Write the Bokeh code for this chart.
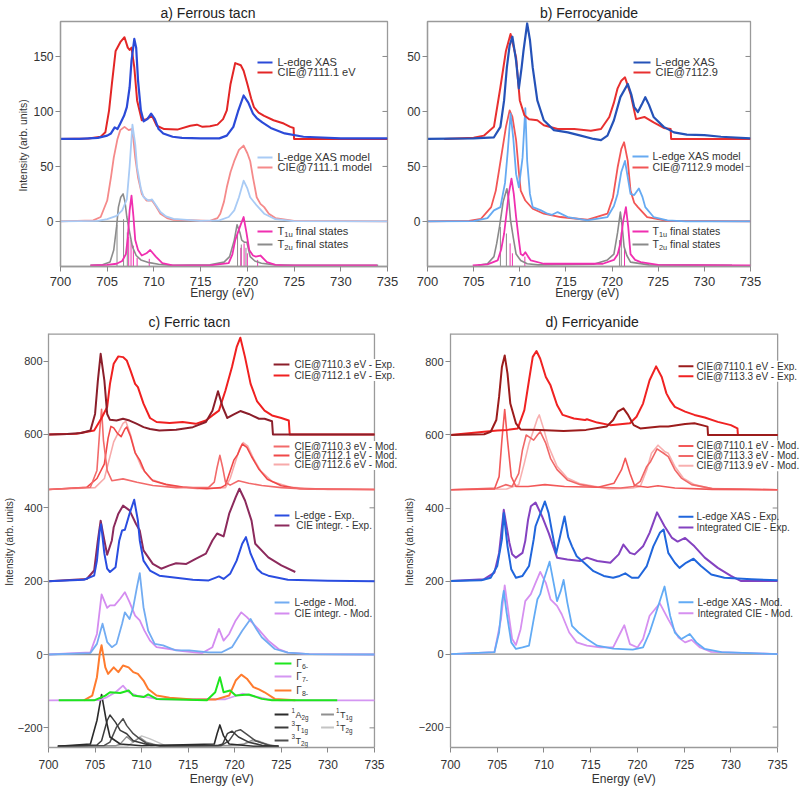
from bokeh.plotting import figure
from bokeh.layouts import column, row
from bokeh.models import Range1d, FixedTicker, Label
from bokeh.embed import file_html
from bokeh.resources import INLINE

FONT = "Liberation Sans"

# ---------------- ticks ----------------
X_TICKS = [700, 705, 710, 715, 720, 725, 730, 735]
AB_YTICKS = [0, 50, 100, 150]
B_YTICK_TEXT = {0: "0", 50: "50", 100: "00", 150: "50"}
CD_YTICKS = [-200, 0, 200, 400, 600, 800]

# ---------------- panel a: Ferrous tacn ----------------
A_XAS = [(700, 75), (702, 75), (704, 76), (705.0, 78), (705.4, 80), (705.8, 85.5), (706.1, 84), (706.4, 89),
         (706.8, 96), (707.1, 104), (707.4, 122), (707.6, 146), (707.9, 166), (708.1, 158), (708.3, 128),
         (708.6, 101), (708.9, 91), (709.3, 93), (709.7, 98), (710.1, 93), (710.5, 84), (711.0, 80), (712.0, 77),
         (713.0, 76), (715.0, 75.5), (717.0, 75.5), (717.8, 78), (718.5, 86), (719.0, 100), (719.6, 114.5),
         (720.1, 108), (720.6, 98), (721.0, 94), (721.6, 90), (722.5, 85), (724.0, 80), (726.0, 77), (730.0, 75.5),
         (735.0, 75.5)]
A_CIE = [(700, 75), (703, 75.5), (704.3, 77), (704.8, 81), (705.2, 101), (705.5, 125), (705.9, 155), (706.4, 163),
         (706.85, 167.5), (707.2, 158), (707.4, 156), (707.6, 158), (707.9, 140), (708.2, 110), (708.7, 92),
         (709.2, 93), (709.8, 96), (710.3, 87), (711.1, 84), (712.5, 83.5), (713.9, 87), (714.6, 88), (715.2, 86),
         (716.0, 86.5), (716.8, 88), (717.4, 93), (717.8, 101), (718.2, 125), (718.7, 144), (719.3, 142),
         (719.6, 137), (720.0, 125), (720.4, 112), (720.7, 104), (721.2, 99), (721.8, 96), (722.8, 92), (723.9, 89),
         (724.6, 86), (724.95, 85), (725.0, 75), (730, 75), (735, 75)]
A_XAS_MOD = [(700, 0), (704, 0.5), (705, 2), (706, 5), (706.6, 10), (707.1, 20), (707.4, 50), (707.7, 88),
             (708.0, 70), (708.2, 49), (708.6, 30), (708.9, 22), (709.4, 19), (709.8, 20), (710.2, 15), (710.7, 8.5),
             (711.3, 4.5), (712.1, 2.4), (715, 0.5), (717, 1), (718, 4), (718.6, 10), (719.1, 22), (719.6, 37),
             (720.0, 30), (720.3, 22), (721.0, 14.5), (721.8, 7), (723, 2), (725, 0.3), (735, 0)]
A_CIE_MOD = [(700, 0), (703.5, 1), (704.3, 4), (705.0, 19), (705.4, 40), (705.7, 58), (706.1, 75), (706.4, 83),
             (706.85, 86), (707.3, 83), (707.6, 84), (707.8, 75), (708.0, 58), (708.3, 40), (708.7, 25), (709.2, 19),
             (709.8, 19), (710.2, 14), (710.7, 7), (711.4, 3), (712.1, 1.5), (716, 0.5), (716.8, 3), (717.1, 7),
             (717.5, 18), (717.8, 31), (718.2, 45), (718.6, 55), (719.1, 65), (719.6, 69), (720.0, 62), (720.3, 55),
             (720.6, 40), (721.0, 22), (721.4, 16), (721.8, 13), (722.3, 7), (723, 3), (725, 0.5), (735, 0)]
A_T1U = [(703.2, -40), (705, -39.5), (706, -38.5), (706.6, -36), (707.0, -29.7), (707.2, -15), (707.4, 10),
         (707.6, 23.5), (707.8, 5), (708.0, -17), (708.3, -26), (708.7, -31), (709.2, -29), (709.6, -26),
         (710.2, -32), (710.9, -38), (712, -40), (716, -40), (718, -38), (718.4, -30), (718.7, -17), (719.2, -5),
         (719.6, 4), (719.9, -10), (720.2, -26), (720.6, -31), (720.9, -32), (721.4, -31), (722.1, -37),
         (723, -39.5), (724, -40), (733.9, -40)]
A_T2U = [(703.2, -40), (704.5, -39.5), (705.3, -37), (705.7, -26), (706.0, -5), (706.2, 13), (706.45, 22),
         (706.7, 25), (706.9, 18), (707.1, 4), (707.4, -10), (707.7, -23), (708.1, -31), (708.6, -35),
         (709.5, -37.5), (710.5, -39), (712, -40), (716, -39.5), (717.5, -37), (718.1, -32), (718.6, -17),
         (718.9, -3), (719.2, -10), (719.4, -17), (719.7, -19), (719.95, -19), (720.3, -32), (720.8, -36),
         (721.5, -38), (723, -39.5), (725, -40), (734, -40)]
A_T1U_STICKS = [(707.3, -14), (707.55, -17), (707.8, -22), (708.2, -33), (709.5, -34), (719.3, -24),
                (719.65, -20), (720.0, -29), (721.1, -35)]
A_T2U_STICKS = [(706.05, -3), (706.75, 2), (707.15, -10), (718.95, -11), (719.35, -21), (719.85, -24)]

# ---------------- panel b: Ferrocyanide ----------------
B_XAS = [(700, 75), (705, 75.5), (707.2, 76.5), (707.9, 86), (708.3, 110), (708.6, 140), (708.9, 160),
         (709.2, 168), (709.6, 146), (709.9, 121), (710.2, 140), (710.4, 155), (710.8, 180), (711.1, 165),
         (711.4, 140), (711.9, 110), (712.6, 92), (713.7, 83), (715.2, 81), (716.6, 78), (718.0, 75), (718.8, 74),
         (719.5, 78), (720.2, 92), (720.9, 113), (721.7, 125), (722.1, 115), (722.4, 104), (722.8, 99.5),
         (723.2, 106), (723.6, 113), (724.0, 106), (724.5, 95), (725.6, 86), (726.7, 81), (728.1, 79),
         (730.0, 78.5), (731.8, 77), (735, 75.5)]
B_CIE = [(701.8, 75), (705, 76), (706.1, 78), (707.2, 86), (707.9, 122), (708.5, 155), (709.0, 170.5),
         (709.6, 149), (710.0, 110), (710.5, 96.5), (711.0, 93), (711.9, 92), (712.6, 87.5), (714.1, 84),
         (715.9, 84), (717.7, 82.5), (718.8, 84), (719.7, 95), (720.2, 108), (720.6, 121), (721.0, 128),
         (721.4, 131), (722.0, 116), (722.6, 93), (723.5, 95), (724.5, 90), (725.6, 85), (726.35, 84),
         (726.4, 75), (735, 75)]
B_XAS_MOD = [(700, 0), (705, 0.3), (706.5, 3), (707.2, 10), (707.9, 13), (708.4, 35), (708.7, 64), (709.0, 98),
             (709.3, 75), (709.6, 43), (709.9, 31), (710.3, 58), (710.6, 103), (710.8, 55), (711.1, 25),
             (711.4, 13), (712.3, 10), (713.0, 7), (713.5, 6), (714.1, 8.5), (715.2, 4), (717.3, 1), (719.5, 4),
             (720.2, 14), (720.6, 25), (721.0, 45), (721.4, 55), (721.7, 40), (722.0, 25), (722.4, 24),
             (722.9, 30), (723.3, 22), (723.6, 13), (724.5, 4), (726, 1), (728, 0), (735, 0)]
B_CIE_MOD = [(700, 0), (704.5, 0.5), (705.8, 2.4), (706.9, 13), (707.4, 28), (707.8, 49), (708.2, 70),
             (708.5, 86), (708.9, 101), (709.2, 95), (709.6, 74), (709.9, 45), (710.1, 28), (710.6, 19),
             (711.4, 11.5), (712.6, 7), (714.4, 4), (717.3, 1.5), (719.5, 7), (720.1, 22), (720.6, 49),
             (721.0, 66), (721.3, 72), (721.7, 55), (722.0, 28), (722.4, 17), (722.8, 13), (723.8, 4),
             (726, 0.5), (735, 0)]
B_T1U = [(704.9, -40), (706.5, -39), (707.6, -35.5), (708.0, -25), (708.3, -11), (708.6, 10), (708.8, 25),
         (709.1, 38.8), (709.35, 25), (709.6, 4), (709.9, -17), (710.1, -29.7), (710.35, -31), (710.6, -28),
         (710.9, -32), (711.2, -35.5), (712.6, -38.5), (719, -38.5), (720.2, -35), (720.6, -30), (720.9, -20),
         (721.2, 0), (721.5, 13), (721.75, -5), (722.0, -29.7), (722.5, -35), (723.1, -37), (725, -39.5),
         (735, -40)]
B_T2U = [(705.5, -40), (706.5, -38.5), (707.2, -32), (707.5, -20), (707.8, -5), (708.2, 18), (708.6, 29.7),
         (708.8, 20), (709.0, 0.9), (709.3, -15), (709.6, -29.7), (710.1, -35.5), (710.8, -38.5), (712, -39.5),
         (718, -39), (719.5, -35), (720.2, -29.7), (720.6, -10), (720.9, 8.5), (721.1, -5), (721.3, -23),
         (721.6, -31), (722.0, -37), (724, -39.5), (733, -40)]
B_T1U_STICKS = [(708.95, -20), (709.2, -29), (710.55, -32), (721.35, -23)]
B_T2U_STICKS = [(707.9, -5), (708.55, -11), (720.8, -17), (721.0, -10)]

# ---------------- panel c: Ferric tacn ----------------
C_EXP_71103 = [(700, 600), (702, 601), (703.5, 604), (704.5, 611), (705.0, 656), (705.3, 747), (705.6, 820),
               (706.0, 747), (706.3, 656), (706.6, 640), (707.3, 638), (708.0, 643), (708.7, 638), (709.5, 629),
               (710.2, 620), (710.9, 615), (711.9, 611), (713.7, 613), (715.5, 620), (716.9, 634), (717.6, 665),
               (718.2, 718), (718.7, 675), (719.2, 645), (719.9, 655), (720.6, 664), (721.5, 656), (722.6, 643),
               (723.2, 643), (724.0, 636), (724.1, 600), (735, 600)]
C_EXP_71121 = [(700, 600), (703, 602), (704.9, 611), (705.7, 645), (706.3, 675), (706.6, 738), (707.0, 793),
               (707.5, 813), (708.0, 811), (708.4, 802), (708.8, 775), (709.3, 738), (709.6, 729), (710.2, 684),
               (710.9, 645), (711.6, 634), (713.0, 631), (714.4, 634), (715.8, 629), (716.9, 638), (717.6, 652),
               (718.3, 665), (719.0, 720), (719.7, 784), (720.2, 838), (720.6, 864), (721.1, 811), (721.7, 738),
               (722.4, 690), (723.2, 665), (724.0, 652), (725.0, 645), (725.8, 638), (725.9, 600), (735, 600)]
C_MOD_71103 = [(700, 450), (704.5, 456), (705.2, 502), (705.5, 611), (705.7, 669), (705.9, 584), (706.3, 502),
               (706.8, 474), (708.0, 479), (709.5, 470), (711.2, 461), (713.7, 455), (717.2, 456), (717.8, 470),
               (718.1, 510), (718.4, 543), (718.7, 510), (719.0, 470), (719.5, 462), (720.4, 474), (721.5, 467),
               (722.9, 461), (725, 455), (728, 451), (735, 450)]
C_MOD_71121 = [(700, 450), (704.1, 456), (705.2, 480), (706.0, 520), (706.4, 590), (706.7, 622), (707.0, 618),
               (707.4, 603), (707.8, 594), (708.2, 615), (708.4, 620), (708.8, 595), (709.3, 550), (709.8, 530),
               (710.3, 500), (711.2, 474), (712.6, 464), (714.4, 457), (717.0, 452), (718.5, 455), (719.0, 462),
               (719.5, 500), (719.9, 530), (720.3, 545), (720.8, 574), (721.3, 565), (721.8, 540), (722.6, 505),
               (723.5, 478), (725, 460), (727, 452), (735, 450)]
C_MOD_71126 = [(700, 450), (705, 455), (706.0, 480), (706.5, 530), (707.0, 580), (707.5, 605), (708.0, 630),
               (708.3, 636), (708.8, 600), (709.3, 552), (710, 510), (711, 478), (713, 460), (716, 452), (719, 455),
               (719.5, 480), (720, 520), (720.5, 560), (720.9, 578), (721.4, 568), (722, 535), (722.8, 500),
               (724, 472), (726, 456), (730, 450), (735, 450)]
C_LEDGE_EXP = [(700, 200), (703.8, 204), (704.9, 215), (705.2, 256), (705.5, 338), (705.65, 355), (706.0, 275),
               (706.3, 234), (706.6, 225), (707.2, 238), (707.6, 311), (707.9, 338), (708.2, 340), (708.7, 384),
               (709.2, 422), (709.6, 365), (709.8, 311), (710.2, 256), (710.9, 229), (711.9, 215), (713.7, 209),
               (715.5, 204), (717.2, 202), (717.9, 209), (718.3, 213), (718.8, 206), (719.5, 220), (720.2, 256),
               (720.8, 302), (721.2, 320), (721.7, 275), (722.4, 234), (722.9, 222), (723.6, 215), (725.7, 204),
               (730, 201), (735, 200)]
C_CIE_EXP = [(700, 200), (704.1, 206), (704.9, 229), (705.3, 311), (705.6, 365), (706.0, 311), (706.3, 272),
             (706.8, 311), (707.0, 347), (707.5, 384), (708.0, 406), (708.7, 393), (709.4, 356), (709.8, 338),
             (710.2, 284), (711.2, 247), (712.1, 234), (713.0, 243), (713.7, 249), (714.8, 247), (715.8, 261),
             (716.9, 275), (717.6, 311), (718.1, 330), (718.8, 322), (719.4, 384), (720.1, 429), (720.5, 452),
             (721.1, 420), (721.8, 365), (722.2, 302), (723.6, 265), (725.0, 243), (726.5, 225)]
C_LEDGE_MOD = [(700, 0), (704.5, 4), (705.2, 29), (705.8, 84), (706.3, 34), (706.8, 20), (707.3, 29), (707.9, 84),
               (708.2, 115), (708.7, 97), (709.1, 129), (709.5, 184), (709.8, 222), (710.2, 129), (710.7, 65),
               (711.4, 29), (712.3, 25), (713.7, 11), (715.1, 11), (717.2, 6), (718.6, 6), (719.7, 20), (720.8, 65),
               (721.7, 97), (722.3, 70), (722.9, 47), (724.3, 15), (725.7, 5), (728, 1), (735, 0)]
C_CIE_MOD = [(700, 0), (704.5, 6), (705.2, 56), (705.7, 164), (706.3, 127), (706.6, 134), (707.1, 134),
             (707.7, 152), (708.2, 170), (708.7, 143), (709.3, 106), (709.8, 93), (710.3, 65), (710.9, 38),
             (711.6, 20), (713.0, 15), (714.4, 9), (716.5, 4), (717.6, 20), (718.3, 70), (718.8, 38), (719.4, 56),
             (720.1, 93), (720.7, 115), (721.3, 102), (722.5, 70), (723.6, 38), (724.7, 15), (725.7, 5), (728, 1),
             (735, 0)]
C_G6 = [(701.1, -125), (704.9, -125), (706.1, -112), (706.6, -103), (707.7, -105), (708.6, -98), (709.1, -112),
        (710.2, -116), (710.7, -109), (711.6, -121), (717.0, -125), (717.9, -103), (718.4, -62), (718.8, -103),
        (719.5, -98), (720.1, -112), (721.5, -109), (722.9, -121), (724, -125), (731.0, -125)]
C_G7 = [(700, -125), (705.5, -124), (706.3, -116), (707.2, -103), (708.0, -85), (708.6, -103), (709.5, -112),
        (712, -122), (719, -122), (720.8, -107), (721.8, -112), (723.5, -122), (725, -125), (735, -125)]
C_G8 = [(703.8, -125), (704.7, -112), (705.2, -62), (705.5, 2), (705.7, 25), (706.1, -35), (706.4, -53),
        (707.0, -35), (707.5, -48), (708.0, -30), (708.6, -35), (709.1, -48), (709.6, -53), (710.2, -71),
        (710.7, -94), (711.6, -112), (713.0, -118), (715.5, -123), (717.9, -123), (719.4, -112), (720.1, -71),
        (720.7, -55), (721.3, -66), (722.0, -89), (722.6, -95), (723.2, -103), (724.3, -121), (726.5, -125)]
C_1A2G = [(701, -250), (704.5, -244), (705.2, -180), (705.7, -109), (706.2, -180), (706.6, -225), (707.7, -244),
          (710, -249), (717.8, -244), (718.1, -216), (718.4, -192), (718.8, -222), (719.4, -244), (722, -250),
          (724.7, -250)]
C_3T1G = [(701, -250), (705.2, -247), (705.7, -235), (706.3, -180), (706.6, -165), (707.2, -185), (707.7, -207),
          (708.4, -216), (709.1, -235), (711, -248), (718.2, -248), (718.7, -244), (719.2, -216), (719.7, -209),
          (720.4, -225), (721.5, -239), (723, -248), (724.7, -250)]
C_3T2G = [(701, -250), (706.0, -248), (706.6, -239), (707.3, -198), (708.0, -175), (708.4, -194), (709.1, -216),
          (709.8, -230), (710.5, -242), (712, -250), (718.5, -249), (719.4, -235), (720.1, -209), (720.6, -205),
          (721.3, -218), (722.2, -235), (724, -250), (724.7, -250)]
C_1T1G = [(701, -250), (707.2, -249), (707.7, -244), (708.4, -224), (709.1, -239), (709.8, -226), (710.5, -239),
          (712, -249), (719.5, -248), (721, -244), (722, -232), (722.8, -240), (723.5, -246), (724.7, -250)]
C_1T2G = [(701, -250), (708.5, -249), (709.1, -239), (710.0, -222), (710.9, -230), (712.5, -248), (720.5, -248),
          (721.5, -240), (722.5, -235), (723.2, -242), (724, -248), (724.7, -250)]

# ---------------- panel d: Ferricyanide ----------------
D_EXP_71101 = [(700, 600), (703.6, 602), (704.3, 609), (704.9, 641), (705.2, 705), (705.5, 786), (705.8, 818),
               (706.1, 768), (706.4, 686), (707.0, 632), (707.5, 615), (709.6, 614), (712.1, 611), (714.5, 614),
               (716.7, 623), (717.4, 641), (717.9, 664), (718.5, 673), (719.0, 655), (719.6, 627), (720.3, 618),
               (722.4, 623), (723.3, 623), (725.1, 630), (726.1, 632), (727.2, 625), (727.5, 623), (727.55, 600),
               (735, 600)]
D_EXP_71133 = [(700, 600), (705.0, 612), (706.1, 614), (707.2, 618), (707.9, 668), (708.4, 750), (708.8, 814),
               (709.2, 830), (709.6, 809), (710.2, 759), (710.7, 736), (711.1, 705), (711.4, 682), (712.0, 655),
               (713.2, 645), (714.4, 641), (714.6, 643), (715.7, 634), (717.1, 627), (719.2, 632), (719.9, 650),
               (720.6, 686), (721.3, 750), (722.0, 788), (722.6, 759), (723.1, 714), (723.5, 695), (724.0, 677),
               (725.1, 664), (726.1, 655), (727.2, 648), (728.6, 636), (730.0, 627), (730.7, 618), (730.75, 600),
               (735, 600)]
D_MOD_71101 = [(700, 450), (704.7, 452), (705.2, 486), (705.5, 586), (705.8, 670), (706.1, 586), (706.5, 486),
               (707.0, 459), (708.3, 459), (710.1, 464), (712.2, 459), (715.8, 457), (717.5, 468), (718.3, 505),
               (718.7, 536), (719.2, 495), (719.7, 461), (721.1, 457), (722.2, 461), (724, 455), (728, 451),
               (735, 450)]
D_MOD_71133 = [(700, 450), (705.0, 455), (705.9, 464), (706.6, 459), (707.3, 495), (707.7, 559), (708.1, 600),
               (708.4, 595), (708.9, 586), (709.3, 600), (709.6, 609), (710.2, 577), (710.7, 536), (711.4, 505),
               (712.5, 477), (713.9, 464), (715.7, 457), (718.2, 455), (719.6, 459), (720.3, 473), (721.0, 514),
               (721.4, 527), (722.1, 562), (722.8, 550), (723.3, 541), (724.0, 505), (724.7, 482), (725.8, 464),
               (728, 453), (735, 450)]
D_MOD_71139 = [(700, 450), (706, 452), (707.3, 464), (707.9, 523), (708.4, 577), (708.9, 614), (709.3, 645),
               (709.5, 655), (710.0, 614), (710.5, 568), (711.4, 514), (712.5, 482), (713.9, 466), (717, 452),
               (719.5, 455), (720.3, 459), (721.0, 505), (721.5, 550), (722.2, 572), (722.9, 555), (723.3, 550),
               (724.0, 514), (724.9, 482), (726.1, 464), (728, 453), (735, 450)]
D_LEDGE_EXP = [(700, 200), (703.3, 202), (704.3, 209), (705.0, 241), (705.5, 314), (705.7, 386), (706.1, 295),
               (706.5, 232), (707.0, 209), (707.7, 214), (708.4, 241), (708.9, 314), (709.1, 350), (709.5, 377),
               (710.1, 418), (710.5, 386), (710.9, 330), (711.3, 275), (711.7, 320), (712.2, 377), (712.6, 320),
               (713.0, 295), (713.5, 268), (714.3, 250), (715.3, 227), (716.4, 214), (717.4, 209), (718.1, 214),
               (718.7, 221), (719.4, 209), (720.1, 209), (721.0, 241), (721.7, 295), (722.4, 332), (722.8, 341),
               (723.3, 277), (724.0, 250), (724.5, 236), (725.2, 250), (726.0, 261), (726.8, 241), (727.9, 218),
               (729.3, 209), (732.2, 205), (735, 202)]
D_CIE_EXP = [(700, 200), (703.6, 205), (704.7, 223), (705.2, 277), (705.7, 395), (706.3, 305), (706.6, 273),
             (707.0, 264), (707.7, 277), (708.0, 310), (708.3, 368), (708.6, 405), (709.1, 415), (709.8, 377),
             (710.5, 332), (711.4, 264), (712.5, 259), (713.9, 255), (714.6, 264), (715.7, 255), (717.1, 250),
             (718.0, 273), (718.5, 300), (719.2, 277), (719.7, 273), (720.6, 295), (721.3, 332), (722.1, 388),
             (722.9, 350), (723.7, 318), (724.3, 308), (725.1, 318), (726.1, 295), (727.2, 264), (728.6, 236),
             (730.0, 214), (731.1, 200), (735, 200)]
D_LEDGE_MOD = [(700, 0), (704.7, 5), (705.2, 59), (705.5, 141), (705.7, 173), (706.0, 114), (706.5, 32),
               (707.0, 14), (707.7, 18), (708.4, 23), (708.9, 95), (709.3, 150), (709.6, 164), (710.0, 205),
               (710.6, 253), (711.1, 186), (711.4, 145), (711.8, 173), (712.1, 203), (712.5, 141), (713.0, 77),
               (713.7, 59), (714.6, 41), (715.7, 23), (717.4, 15), (719.5, 12), (720.6, 18), (721.3, 59),
               (722.0, 114), (722.9, 185), (723.5, 105), (724.0, 59), (724.7, 41), (725.6, 55), (726.3, 32),
               (727.2, 14), (729.0, 5), (735, 0)]
D_CIE_MOD = [(700, 0), (704.7, 5), (705.4, 95), (705.8, 188), (706.3, 95), (706.6, 41), (707.0, 25), (707.5, 68),
             (708.0, 145), (708.6, 164), (709.1, 195), (709.6, 225), (710.2, 195), (710.7, 150), (711.4, 132),
             (711.9, 109), (712.7, 59), (713.5, 32), (714.6, 23), (716.0, 18), (717.4, 18), (718.2, 59),
             (718.6, 79), (719.2, 27), (720.0, 18), (720.6, 41), (721.3, 105), (722.4, 139), (723.3, 95),
             (724.4, 45), (725.1, 32), (725.8, 39), (726.7, 18), (727.9, 6), (735, 0)]

# ---------------- helpers ----------------
CHAR_W = {"T": .611, "A": .667, "Γ": .556, "-": .333, " ": .278, "u": .556, "g": .556}
X0, X1 = X_TICKS[0], X_TICKS[-1]
FRAME = "#9a9a9a"
ZERO = "#8c8c8c"


def tw(s, fs):
    return sum(CHAR_W.get(c, .556) for c in s) * fs


def xs(pairs):
    return [p[0] for p in pairs]


def ys(pairs):
    return [p[1] for p in pairs]


def curve(p, pairs, color, lw=2.0):
    p.line(xs(pairs), ys(pairs), line_color=color, line_width=lw, line_join="round")


def sticks(p, pairs, base, color):
    p.segment(x0=xs(pairs), y0=[base] * len(pairs), x1=xs(pairs), y1=ys(pairs), line_color=color, line_width=1)


def zero_line(p):
    p.line([X0, X1], [0, 0], line_color=ZERO, line_width=1.3)


def mirror_ticks(p, ticks, px_per_ev):
    d = 5 / px_per_ev
    p.segment(x0=[X1 - d] * len(ticks), y0=ticks, x1=[X1] * len(ticks), y1=ticks, line_color="#888888",
              line_width=1)


GAP = {"n": 0, "sub": 3, "sup": 0.5}


def legend(p, x0, x1, xt, y, color, parts, fs, lw=2.0, bg=False):
    p.segment(x0=[x0], y0=[y], x1=[x1], y1=[y], line_color=color, line_width=lw)
    off = 0.0
    for txt, mode in parts:
        size = fs if mode == "n" else fs * 0.7
        dy = 0 if mode == "n" else (-3 if mode == "sub" else 4)
        lab = Label(x=xt, y=y, x_offset=off, y_offset=dy, text=txt, text_font=FONT,
                    text_font_size=f"{size:.1f}px", text_baseline="middle", text_color="#333333")
        if bg:
            lab.background_fill_color = "white"
        p.add_layout(lab)
        off += tw(txt, size) + GAP[mode]


def make_fig(w, h, xend, yr, mbl, mbr, mbt, mbb, title, t_align, t_off, t_stand, yticks, ylabel, xfs, yfs,
             xstand, xlstand, open_right, ylfs="10.5px"):
    p = figure(width=w, height=h, x_range=Range1d(X0, xend), y_range=Range1d(*yr),
               output_backend="svg", toolbar_location=None,
               min_border_left=mbl, min_border_right=mbr, min_border_top=mbt, min_border_bottom=mbb)
    p.title.text = title
    p.title.align = t_align
    p.title.offset = t_off
    p.title.standoff = t_stand
    p.title.text_font = FONT
    p.title.text_font_size = "14px"
    p.title.text_font_style = "normal"
    p.title.text_color = "#222222"
    p.xgrid.visible = False
    p.ygrid.visible = False
    p.background_fill_color = "white"
    p.border_fill_color = "white"
    if open_right:
        # frame box drawn only up to 735 eV; the extra room on the right holds legend text
        p.outline_line_color = None
        p.xaxis.bounds = (X0, X1)
        p.line([X0, X1], [yr[1], yr[1]], line_color=FRAME, line_width=2.6)
        p.line([X1, X1], [yr[0], yr[1]], line_color=FRAME, line_width=1.3)
    else:
        p.outline_line_color = FRAME
        p.outline_line_width = 1.3
    p.xaxis.ticker = FixedTicker(ticks=X_TICKS)
    p.yaxis.ticker = FixedTicker(ticks=yticks)
    for ax in (p.xaxis, p.yaxis):
        ax.axis_line_color = FRAME
        ax.axis_line_width = 1.3
        ax.major_tick_line_color = "#888888"
        ax.major_tick_in = 0
        ax.major_tick_out = 5
        ax.minor_tick_line_color = None
        ax.major_label_text_font = FONT
        ax.major_label_text_color = "#333333"
        ax.axis_label_text_font = FONT
        ax.axis_label_text_font_style = "normal"
        ax.axis_label_text_color = "#333333"
    p.yaxis.major_label_standoff = 2
    p.yaxis.axis_label_standoff = 1
    p.yaxis.axis_label_text_font_size = ylfs
    p.xaxis.axis_label_text_font_size = "12px"
    p.xaxis.major_label_standoff = xstand
    p.xaxis.axis_label_standoff = xlstand
    p.xaxis.major_label_text_font_size = xfs
    p.yaxis.major_label_text_font_size = yfs
    p.xaxis.axis_label = "Energy  (eV)"
    if ylabel:
        p.yaxis.axis_label = "Intensity  (arb. units)"
    return p


def leg_px(p, m, lx0, lx1, tx, py, color, parts, fs, bg=False):
    x0, y = m(lx0, py)
    x1, _ = m(lx1, py)
    xt, _ = m(tx, py)
    legend(p, x0, x1, xt, y, color, parts, fs, bg=bg)


# ---------------- panel a ----------------
pa = make_fig(400, 306, X1, (-41, 181.8), 60, 13, 21, 40, "a) Ferrous tacn", "left", 100, 2, AB_YTICKS, True,
              "13px", "12px", 5, -3, False)
zero_line(pa)
mirror_ticks(pa, AB_YTICKS, 9.34)
A_C = dict(xas="#2b4ad8", cie="#e32626", xasm="#a9cbf5", ciem="#f58a8a", t1u="#f02fb0", t2u="#8c8c8c")
sticks(pa, A_T2U_STICKS, -41, A_C["t2u"])
sticks(pa, A_T1U_STICKS, -41, A_C["t1u"])
curve(pa, A_T2U, A_C["t2u"], 1.6)
curve(pa, A_T1U, A_C["t1u"], 1.8)
curve(pa, A_CIE_MOD, A_C["ciem"], 1.8)
curve(pa, A_XAS_MOD, A_C["xasm"], 1.8)
curve(pa, A_CIE, A_C["cie"], 2.0)
curve(pa, A_XAS, A_C["xas"], 2.2)


def map_a(px, py):
    return 700 + (px - 60) / 327 * 35, (221 - py) / 1.1


leg_px(pa, map_a, 257, 272, 277, 62, A_C["xas"], [("L-edge XAS", "n")], 11)
leg_px(pa, map_a, 257, 272, 277, 72, A_C["cie"], [("CIE@7111.1 eV", "n")], 11)
leg_px(pa, map_a, 257, 272, 277, 157, A_C["xasm"], [("L-edge XAS model", "n")], 11)
leg_px(pa, map_a, 257, 272, 277, 167, A_C["ciem"], [("CIE@7111.1 model", "n")], 11)
leg_px(pa, map_a, 257, 272, 277, 231, A_C["t1u"], [("T", "n"), ("1u", "sub"), ("final states", "n")], 11)
leg_px(pa, map_a, 257, 272, 277, 244, A_C["t2u"], [("T", "n"), ("2u", "sub"), ("final states", "n")], 11)

# ---------------- panel b ----------------
pb = make_fig(400, 306, X1, (-41, 181.8), 27, 50, 21, 40, "b) Ferrocyanide", "center", 0, 2, AB_YTICKS, False,
              "13px", "12px", 5, -3, False)
pb.yaxis.major_label_overrides = B_YTICK_TEXT
zero_line(pb)
mirror_ticks(pb, AB_YTICKS, 9.23)
B_C = dict(xas="#2552b8", cie="#e83030", xasm="#66aaf2", ciem="#f25555", t1u="#f02fb0", t2u="#8a8a8a")
sticks(pb, B_T2U_STICKS, -41, B_C["t2u"])
sticks(pb, B_T1U_STICKS, -41, B_C["t1u"])
curve(pb, B_T2U, B_C["t2u"], 1.6)
curve(pb, B_T1U, B_C["t1u"], 1.8)
curve(pb, B_CIE_MOD, B_C["ciem"], 1.8)
curve(pb, B_XAS_MOD, B_C["xasm"], 1.8)
curve(pb, B_CIE, B_C["cie"], 2.0)
curve(pb, B_XAS, B_C["xas"], 2.2)


def map_b(px, py):
    return 700 + (px - 427) / 323 * 35, (221 - py) / 1.1


leg_px(pb, map_b, 633, 650, 655, 62, B_C["xas"], [("L-edge XAS", "n")], 11)
leg_px(pb, map_b, 633, 650, 655, 72, B_C["cie"], [("CIE@7112.9", "n")], 11)
leg_px(pb, map_b, 632, 648, 652, 156, B_C["xasm"], [("L-edge XAS model", "n")], 10.5)
leg_px(pb, map_b, 632, 648, 652, 167, B_C["ciem"], [("CIE@7112.9 model", "n")], 10.5)
leg_px(pb, map_b, 632, 648, 652, 231, B_C["t1u"], [("T", "n"), ("1u", "sub"), ("final states", "n")], 10.5)
leg_px(pb, map_b, 632, 648, 652, 244, B_C["t2u"], [("T", "n"), ("2u", "sub"), ("final states", "n")], 10.5)

# ---------------- panel c ----------------
C_YR = (-253.6, 875.4)
pc = make_fig(400, 492, 700 + 354 / 9.42, C_YR, 44, 2, 27, 51, "c) Ferric tacn", "left", 100, 8, CD_YTICKS, True,
              "12px", "11px", 7, 0, True, ylfs="10px")
pc.yaxis.major_label_standoff = 1
pc.yaxis.axis_label_standoff = 0
zero_line(pc)
mirror_ticks(pc, CD_YTICKS, 9.42)
C_C = dict(e1="#8b1e2a", e2="#f02020", m1="#f26a6a", m2="#f04848", m3="#f7aaaa", le="#2a4de0", ce="#8c2a5c",
           lm="#72acf2", cm="#d48cf0", g6="#1ee61e", g7="#d496f2", g8="#ff7b2e",
           a2g="#2b2b2b", t1g3="#3c3c3c", t2g3="#4d4d4d", t1g1="#8f8f8f", t2g1="#c4c4c4")
curve(pc, C_1T2G, C_C["t2g1"], 1.4)
curve(pc, C_1T1G, C_C["t1g1"], 1.4)
curve(pc, C_3T2G, C_C["t2g3"], 1.5)
curve(pc, C_3T1G, C_C["t1g3"], 1.5)
curve(pc, C_1A2G, C_C["a2g"], 1.6)
curve(pc, C_G7, C_C["g7"], 1.8)
curve(pc, C_G8, C_C["g8"], 2.0)
curve(pc, C_G6, C_C["g6"], 2.0)
curve(pc, C_CIE_MOD, C_C["cm"], 1.8)
curve(pc, C_LEDGE_MOD, C_C["lm"], 1.8)
curve(pc, C_CIE_EXP, C_C["ce"], 2.0)
curve(pc, C_LEDGE_EXP, C_C["le"], 2.0)
curve(pc, C_MOD_71126, C_C["m3"], 1.6)
curve(pc, C_MOD_71121, C_C["m2"], 1.6)
curve(pc, C_MOD_71103, C_C["m1"], 1.6)
curve(pc, C_EXP_71121, C_C["e2"], 2.0)
curve(pc, C_EXP_71103, C_C["e1"], 2.0)


def map_c(px, py):
    return 700 + (px - 44.3) / 329.7 * 35, (654 - py) / 0.3667


FS_C = 10
leg_px(pc, map_c, 272, 288, 293, 364, C_C["e1"], [("CIE@7110.3 eV - Exp.", "n")], FS_C, bg=True)
leg_px(pc, map_c, 272, 288, 293, 375, C_C["e2"], [("CIE@7112.1 eV - Exp.", "n")], FS_C, bg=True)
leg_px(pc, map_c, 272, 288, 293, 446, C_C["m1"], [("CIE@7110.3 eV - Mod.", "n")], FS_C, bg=True)
leg_px(pc, map_c, 272, 288, 293, 455, C_C["m2"], [("CIE@7112.1 eV - Mod.", "n")], FS_C, bg=True)
leg_px(pc, map_c, 272, 288, 293, 464, C_C["m3"], [("CIE@7112.6 eV - Mod.", "n")], FS_C, bg=True)
leg_px(pc, map_c, 273, 288, 293, 515, C_C["le"], [("L-edge - Exp.", "n")], FS_C)
leg_px(pc, map_c, 273, 288, 295, 525, C_C["ce"], [("CIE integr. - Exp.", "n")], FS_C)
leg_px(pc, map_c, 273, 288, 293, 602, C_C["lm"], [("L-edge - Mod.", "n")], FS_C)
leg_px(pc, map_c, 273, 288, 293, 613, C_C["cm"], [("CIE integr. - Mod.", "n")], FS_C)
leg_px(pc, map_c, 273, 290, 295, 663, C_C["g6"], [("Γ", "n"), ("6-", "sub")], FS_C)
leg_px(pc, map_c, 273, 290, 295, 676, C_C["g7"], [("Γ", "n"), ("7-", "sub")], FS_C)
leg_px(pc, map_c, 273, 290, 295, 690, C_C["g8"], [("Γ", "n"), ("8-", "sub")], FS_C)
leg_px(pc, map_c, 273, 287, 290, 714, C_C["a2g"], [("1", "sup"), ("A", "n"), ("2g", "sub")], 9)
leg_px(pc, map_c, 273, 287, 290, 727, C_C["t1g3"], [("3", "sup"), ("T", "n"), ("1g", "sub")], 9)
leg_px(pc, map_c, 273, 287, 290, 740, C_C["t2g3"], [("3", "sup"), ("T", "n"), ("2g", "sub")], 9)
leg_px(pc, map_c, 320, 333, 335, 714, C_C["t1g1"], [("1", "sup"), ("T", "n"), ("1g", "sub")], 9)
leg_px(pc, map_c, 320, 333, 335, 727, C_C["t2g1"], [("1", "sup"), ("T", "n"), ("2g", "sub")], 9)

# ---------------- panel d ----------------
D_YR = (-256, 878)
pd_ = make_fig(400, 492, 700 + 352 / 9.4, D_YR, 48, 0, 27, 49, "d) Ferricyanide", "left", 95, 8, CD_YTICKS, True,
               "12px", "11px", 7, 0, True, ylfs="10px")
zero_line(pd_)
mirror_ticks(pd_, CD_YTICKS, 9.4)
D_C = dict(e1="#9c1c1c", e2="#f02222", m1="#f25858", m2="#f06868", m3="#f8b0b0", le="#2066dc", ce="#8442c0",
           lm="#62abf5", cm="#d690f0")
curve(pd_, D_CIE_MOD, D_C["cm"], 1.8)
curve(pd_, D_LEDGE_MOD, D_C["lm"], 1.8)
curve(pd_, D_CIE_EXP, D_C["ce"], 2.0)
curve(pd_, D_LEDGE_EXP, D_C["le"], 2.0)
curve(pd_, D_MOD_71139, D_C["m3"], 1.6)
curve(pd_, D_MOD_71133, D_C["m2"], 1.6)
curve(pd_, D_MOD_71101, D_C["m1"], 1.6)
curve(pd_, D_EXP_71133, D_C["e2"], 2.0)
curve(pd_, D_EXP_71101, D_C["e1"], 2.0)


def map_d(px, py):
    return 700 + (px - 447.7) / 329 * 35, (655 - py) / 0.3667


leg_px(pd_, map_d, 677, 692, 695, 366, D_C["e1"], [("CIE@7110.1 eV - Exp.", "n")], FS_C, bg=True)
leg_px(pd_, map_d, 677, 692, 695, 376, D_C["e2"], [("CIE@7113.3 eV - Exp.", "n")], FS_C, bg=True)
leg_px(pd_, map_d, 677, 692, 695, 446, D_C["m1"], [("CIE@7110.1 eV - Mod.", "n")], FS_C, bg=True)
leg_px(pd_, map_d, 677, 692, 695, 456, D_C["m2"], [("CIE@7113.3 eV - Mod.", "n")], FS_C, bg=True)
leg_px(pd_, map_d, 677, 692, 695, 466, D_C["m3"], [("CIE@7113.9 eV - Mod.", "n")], FS_C, bg=True)
leg_px(pd_, map_d, 677, 692, 695, 517, D_C["le"], [("L-edge XAS - Exp.", "n")], FS_C)
leg_px(pd_, map_d, 677, 692, 695, 528, D_C["ce"], [("Integrated CIE - Exp.", "n")], FS_C)
leg_px(pd_, map_d, 677, 692, 696, 603, D_C["lm"], [("L-edge XAS - Mod.", "n")], FS_C)
leg_px(pd_, map_d, 677, 692, 696, 614, D_C["cm"], [("Integrated CIE - Mod.", "n")], FS_C)

layout = column(row(pa, pb), row(pc, pd_))
open("out.html", "w").write(file_html(layout, INLINE))
